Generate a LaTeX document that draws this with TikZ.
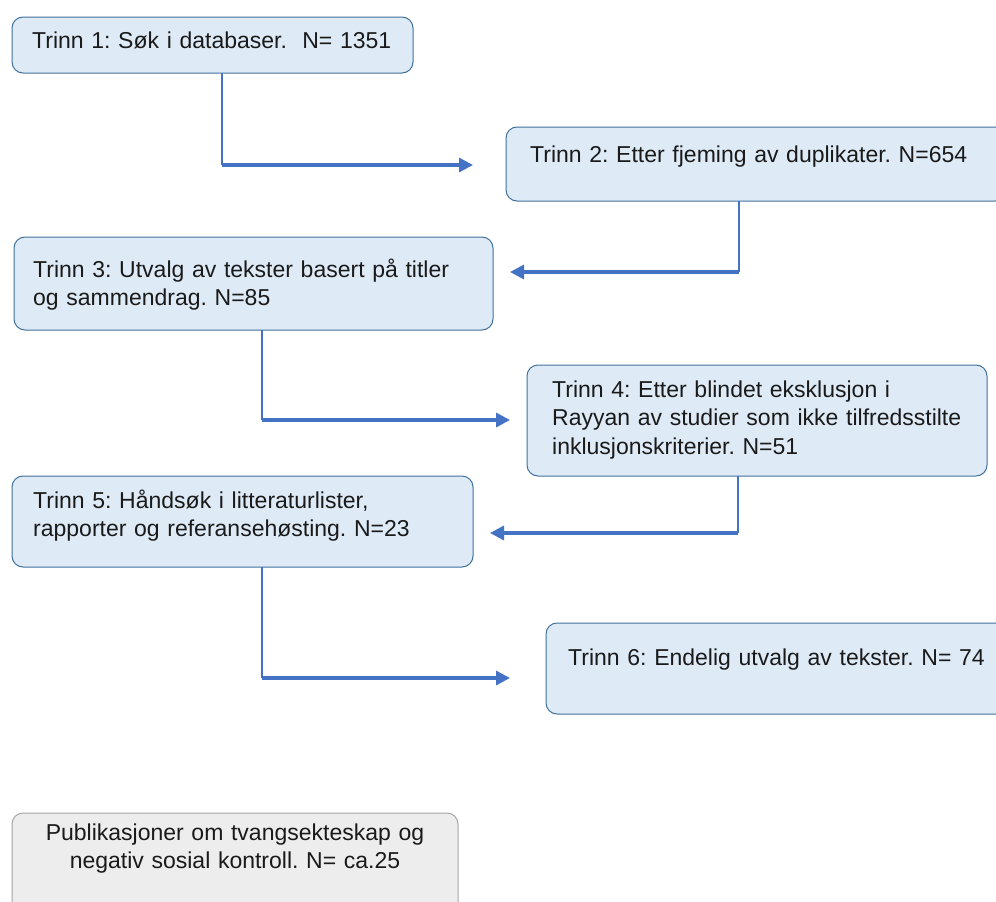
\documentclass[tikz,border=0pt]{standalone}
\usepackage{fontspec}
\setmainfont{Liberation Sans}
\usetikzlibrary{arrows.meta}
\definecolor{lineblue}{HTML}{4472C4}
\definecolor{boxfill}{HTML}{DEEBF7}
\definecolor{boxdraw}{HTML}{41719C}
\definecolor{grayfill}{HTML}{EDEDED}
\definecolor{graydraw}{HTML}{A5A5A5}
\definecolor{txtcol}{HTML}{1A1A1A}
\frenchspacing
\begin{document}
\begin{tikzpicture}[x=1pt,y=-1pt,
  box/.style={draw=boxdraw, fill=boxfill, line width=1pt, rounded corners=11pt, inner sep=0pt, outer sep=0pt, anchor=north west},
  graybox/.style={box, draw=graydraw, fill=grayfill},
  txt/.style={anchor=base west, align=left, text width=470pt, font=\fontsize{23}{28.5}\selectfont, inner sep=0pt, text=txtcol},
  ctxt/.style={txt, anchor=base, align=center, text width=440pt},
  vline/.style={draw=lineblue, line width=1.6pt},
  hline/.style={draw=lineblue, line width=3.2pt, -{Triangle[length=14pt,width=14pt]}}
]
\useasboundingbox (0,0) rectangle (996,902);
\fill[white] (0,0) rectangle (996,902);
% boxes
\node[box, minimum width=401pt, minimum height=56pt] (b1) at (12,17) {};
\node[box, minimum width=500pt, minimum height=74pt] (b2) at (506,127) {};
\node[box, minimum width=479pt, minimum height=93pt] (b3) at (14,237) {};
\node[box, minimum width=460pt, minimum height=111pt] (b4) at (527,365) {};
\node[box, minimum width=461pt, minimum height=91pt] (b5) at (12,476) {};
\node[box, minimum width=470pt, minimum height=91pt] (b6) at (546,623) {};
\node[graybox, minimum width=446pt, minimum height=110pt] (b7) at (12,813) {};
% texts
\node[txt] (t1) at (32,48) {Trinn 1: Søk i databaser.~ N= 1351};
\node[txt] (t2) at (530,162) {Trinn 2: Etter fjeming av duplikater. N=654};
\node[txt] (t3) at (33,277) {Trinn 3: Utvalg av tekster basert på titler\\og sammendrag. N=85};
\node[txt] (t4) at (552,397) {Trinn 4: Etter blindet eksklusjon i\\Rayyan av studier som ikke tilfredsstilte\\inklusjonskriterier. N=51};
\node[txt] (t5) at (33,508) {Trinn 5: Håndsøk i litteraturlister,\\rapporter og referansehøsting. N=23};
\node[txt] (t6) at (568,665) {Trinn 6: Endelig utvalg av tekster. N= 74};
\node[ctxt] (t7) at (235,840) {Publikasjoner om tvangsekteskap og\\negativ sosial kontroll. N= ca.25};
% connectors
\coordinate (k1) at (222,165); \coordinate (e1) at (473,165);
\coordinate (k2) at (739,272); \coordinate (e2) at (510,272);
\coordinate (k3) at (262,420); \coordinate (e3) at (510,420);
\coordinate (k4) at (738,533); \coordinate (e4) at (490,533);
\coordinate (k5) at (262,678); \coordinate (e5) at (510,678);
\draw[vline] (k1 |- b1.south) -- (k1); \draw[hline] (k1) -- (e1);
\draw[vline] (k2 |- b2.south) -- (k2); \draw[hline] (k2) -- (e2);
\draw[vline] (k3 |- b3.south) -- (k3); \draw[hline] (k3) -- (e3);
\draw[vline] (k4 |- b4.south) -- (k4); \draw[hline] (k4) -- (e4);
\draw[vline] (k5 |- b5.south) -- (k5); \draw[hline] (k5) -- (e5);
\end{tikzpicture}
\end{document}
